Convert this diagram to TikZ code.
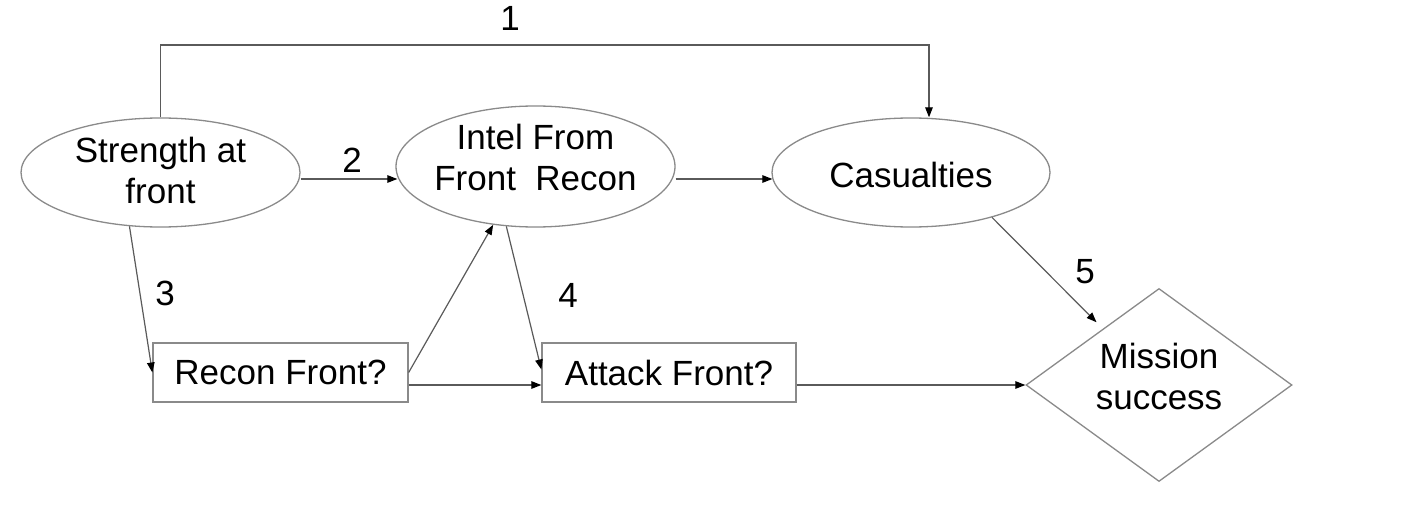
\documentclass[tikz,border=0pt]{standalone}
\usepackage{fontspec}
\setmainfont{Liberation Sans}
\usetikzlibrary{shapes.geometric,arrows.meta}
\definecolor{bordergray}{HTML}{8A8A8A}
\definecolor{linegray}{HTML}{5A5A5A}
\begin{document}
\begin{tikzpicture}[x=1pt,y=-1pt,
  every node/.style={font=\fontsize{35}{41}\selectfont, text=black},
  ell/.style={ellipse, draw=bordergray, line width=1.3pt, inner sep=0pt},
  txt/.style={inner sep=0pt, align=center},
  box/.style={rectangle, draw=bordergray, line width=1.3pt, inner sep=0pt,
    minimum width=255pt, minimum height=59pt},
  dia/.style={diamond, draw=bordergray, line width=1.3pt, inner sep=0pt},
  conn/.style={draw=linegray, line width=1.2pt, -{Triangle[length=10pt,width=7.5pt,color=black]}},
  lbl/.style={inner sep=0pt}]
\useasboundingbox (0,0) rectangle (1406,508);
\fill[white] (0,0) rectangle (1406,508);

% nodes
\node[ell, minimum width=279pt, minimum height=109pt] (str) at (160.5,172.5) {};
\node[txt] (strT) at (160.5,170) {Strength at\\front};
\node[ell, minimum width=279pt, minimum height=121pt] (intel) at (535.5,166.5) {};
\node[txt] (intelT) at (535.5,157.5) {Intel From\\Front~~Recon};
\node[ell, minimum width=278pt, minimum height=109pt] (cas) at (911,172.5) {};
\node[txt] (casT) at (911,175) {Casualties};
\node[box] (recon) at (280.5,372.5) {Recon Front?};
\node[box, minimum width=254pt] (attack) at (669,372.5) {Attack Front?};
\node[dia, minimum width=266pt, minimum height=193pt] (ms) at (1159,385) {};
\node[txt] (msT) at (1159,376.5) {Mission\\success};

% connectors
\coordinate (c1a) at (160.5,45);
\coordinate (c1b) at (929,45);
\draw[conn] (str.north) -- (c1a) -- (c1b) -- (c1b |- cas.north);
\draw[conn] ([yshift=-6.5pt]str.east) -- ([xshift=2pt,yshift=-12.5pt]intel.west);
\draw[conn] ([yshift=-12.5pt]intel.east) -- ([xshift=1pt,yshift=-6.5pt]cas.west);
\draw[conn] (str.240) -- (recon.west);
\draw[conn] (recon.east) -- (intel.234);
\draw[conn] (intel.244) -- ([yshift=3pt]attack.west);
\draw[conn] ([yshift=-12.5pt]recon.east) -- ([yshift=-12.5pt]attack.west);
\draw[conn] ([yshift=-12.5pt]attack.east) -- (ms.west);
\draw[conn, shorten >=9pt] (cas.-29) -- (ms);

% labels
\node[lbl] (l1) at (510,18) {1};
\node[lbl] (l2) at (352,160) {2};
\node[lbl] (l3) at (165,293) {3};
\node[lbl] (l4) at (568,295) {4};
\node[lbl] (l5) at (1085,272) {5};
\end{tikzpicture}
\end{document}
